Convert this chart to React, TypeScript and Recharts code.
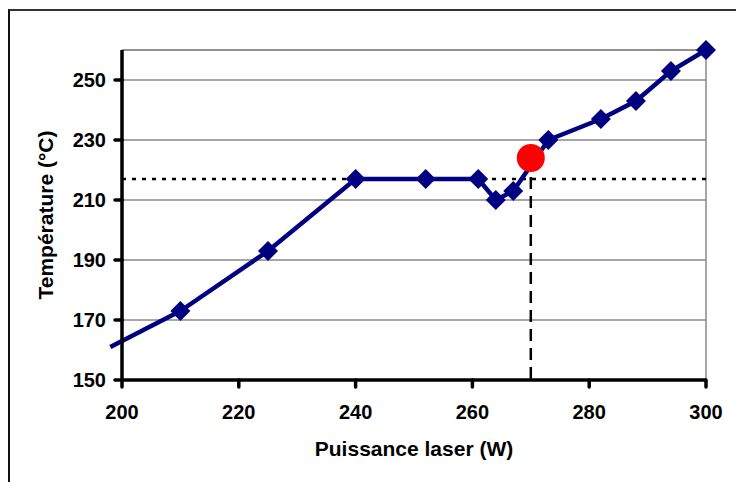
import React from "react";
import {
  ComposedChart,
  Line,
  XAxis,
  YAxis,
  CartesianGrid,
  ReferenceLine,
  ReferenceDot,
} from "recharts";

// Measured points (laser power in W, temperature in °C)
const power = [210, 225, 240, 252, 261, 264, 267, 273, 282, 288, 294, 300];
const temperature = [173, 193, 217, 217, 217, 210, 213, 230, 237, 243, 253, 260];

// Start of the curve, left of the 200 W axis
const leadIn = { x: 198, y: 161 };

// Melting point marker and its guide lines
const meltPower = 270;
const meltTemp = 224;
const plateauTemp = 217;

const xTicks = [200, 220, 240, 260, 280, 300];
const yTicks = [150, 170, 190, 210, 230, 250];

const NAVY = "#000080";
const FONT = "'Liberation Sans', Arial, sans-serif";

const data = power.map((p, i) => ({ power: p, temp: temperature[i] }));

const Diamond = (props: any) => {
  const { cx, cy } = props;
  if (cx == null || cy == null) return null;
  const r = 10;
  return (
    <polygon
      points={`${cx},${cy - r} ${cx + r},${cy} ${cx},${cy + r} ${cx - r},${cy}`}
      fill={NAVY}
    />
  );
};

const tickStyle = { fontSize: 20, fontWeight: 700, fill: "#000", fontFamily: FONT };
const titleStyle = { fontSize: 21, fontWeight: 700, fill: "#000", fontFamily: FONT };

export default function App() {
  return (
    <div
      style={{
        position: "absolute",
        left: 0,
        top: 0,
        width: 736,
        height: 482,
        overflow: "hidden",
        background: "#fff",
      }}
    >
      <div
        style={{
          position: "absolute",
          left: 8,
          top: 9,
          width: 760,
          height: 500,
          borderLeft: "2px solid #111",
          borderTop: "2px solid #333",
        }}
      />
      <ComposedChart
        width={736}
        height={482}
        data={data}
        margin={{ top: 50, right: 30, bottom: 22, left: 52 }}
        style={{ position: "absolute", left: 0, top: 0 }}
      >
        <CartesianGrid vertical={false} stroke="#888" strokeWidth={1.5} />
        <ReferenceLine y={260} stroke="#888" strokeWidth={1.5} />
        <ReferenceLine x={300} stroke="#888" strokeWidth={1.5} />
        <XAxis
          dataKey="power"
          type="number"
          domain={[200, 300]}
          ticks={xTicks}
          height={80}
          stroke="#000"
          strokeWidth={3.5}
          tickSize={7}
          tickMargin={18}
          tick={tickStyle}
          tickLine={{ stroke: "#000", strokeWidth: 3.5, strokeLinecap: "round" }}
          label={{
            value: "Puissance laser (W)",
            position: "insideBottom",
            offset: 4,
            style: titleStyle,
          }}
        />
        <YAxis
          type="number"
          domain={[150, 260]}
          ticks={yTicks}
          width={70}
          stroke="#000"
          strokeWidth={3.5}
          tickSize={7}
          tickMargin={9}
          tick={tickStyle}
          tickLine={{ stroke: "#000", strokeWidth: 3.5, strokeLinecap: "round" }}
          label={{
            value: "Température (°C)",
            angle: -90,
            position: "insideLeft",
            offset: -6,
            style: { ...titleStyle, textAnchor: "middle" },
          }}
        />
        <ReferenceLine
          y={plateauTemp}
          stroke="#000"
          strokeWidth={2.5}
          strokeDasharray="4 6"
        />
        <ReferenceLine
          segment={[
            { x: meltPower, y: meltTemp },
            { x: meltPower, y: 150 },
          ]}
          stroke="#000"
          strokeWidth={2.5}
          strokeDasharray="12 7"
        />
        <ReferenceLine
          segment={[leadIn, { x: power[0], y: temperature[0] }]}
          ifOverflow="visible"
          stroke={NAVY}
          strokeWidth={4.5}
        />
        <Line
          type="linear"
          dataKey="temp"
          stroke={NAVY}
          strokeWidth={4.5}
          dot={<Diamond />}
          activeDot={false}
          isAnimationActive={false}
        />
        <ReferenceDot
          x={meltPower}
          y={meltTemp}
          r={14}
          fill="#ff0000"
          stroke="none"
        />
      </ComposedChart>
    </div>
  );
}
